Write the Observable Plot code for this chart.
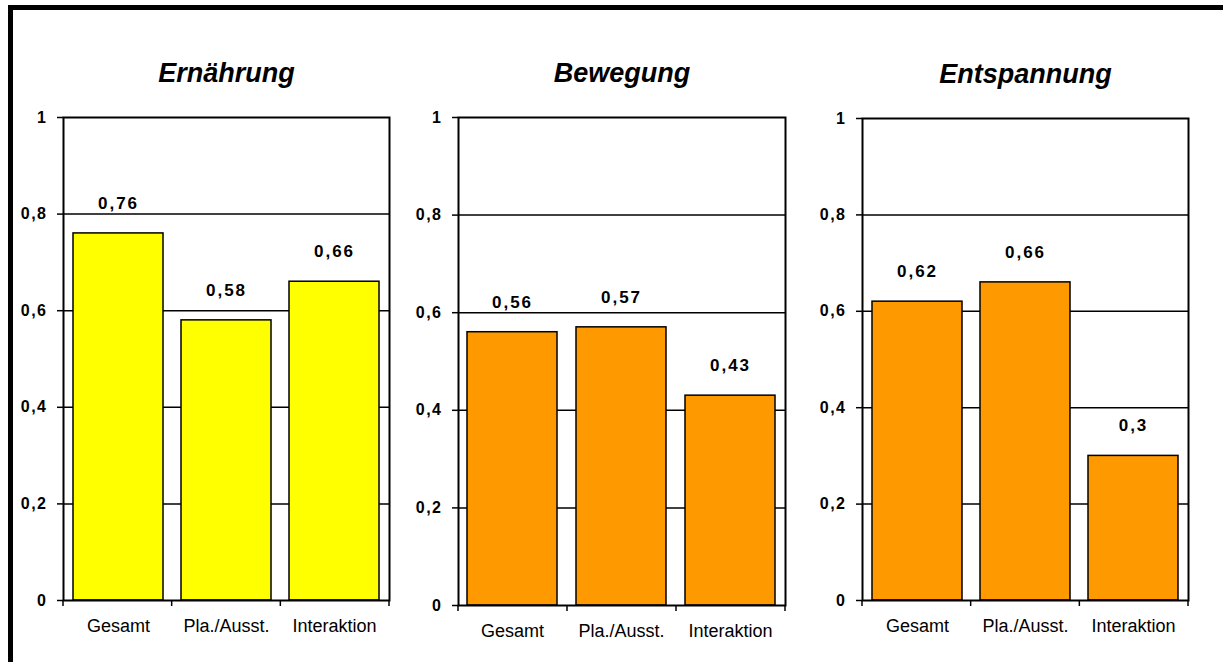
<!DOCTYPE html>
<html><head><meta charset="utf-8">
<script src="https://cdn.jsdelivr.net/npm/d3@7"></script>
<script src="https://cdn.jsdelivr.net/npm/@observablehq/plot@0.6"></script>
<style>
html,body{margin:0;padding:0;background:#fff;overflow:hidden;}
#chart{position:relative;width:1223px;height:662px;font-family:"Liberation Sans",Arial,sans-serif;}
#chart svg{position:absolute;left:0;top:0;background:transparent;}
#frame{position:absolute;left:8px;top:5px;width:1300px;height:700px;border-top:5px solid #000;border-left:5px solid #000;pointer-events:none;z-index:5;}
g[aria-label="y-axis tick label"] text{letter-spacing:1.5px;}
</style></head>
<body><div id="chart"><div id="frame"></div></div>
<script>
// ---- data ----
const categories = ["Gesamt", "Pla./Ausst.", "Interaktion"];
const panelTitles = ["Ernährung", "Bewegung", "Entspannung"];
const valuesErnaehrung = [0.76, 0.58, 0.66];
const valuesBewegung = [0.56, 0.57, 0.43];
const valuesEntspannung = [0.62, 0.66, 0.3];
const yTicks = [0, 0.2, 0.4, 0.6, 0.8, 1];

// ---- layout / style ----
const panelSeries = [valuesErnaehrung, valuesBewegung, valuesEntspannung];
const panelFill = ["#FFFF00", "#FF9900", "#FF9900"];
const panelBox = [
  {l: 63, r: 389, t: 117, b: 600},
  {l: 458, r: 785, t: 117, b: 605},
  {l: 862, r: 1188, t: 118, b: 600}
];
const W = 1223, H = 662;
const FONT = "Liberation Sans, Arial, sans-serif";
const fmt = v => String(v).replace(".", ",");

const chart = document.getElementById("chart");

panelTitles.forEach((title, p) => {
  const box = panelBox[p];
  const data = categories.map((c, i) => ({category: c, value: panelSeries[p][i]}));
  const n = categories.length;
  const boundaryTicks = (index, scales, values, dims) => {
    const g = d3.create("svg:g").attr("aria-label", "x boundary ticks");
    const x0 = dims.marginLeft, x1 = dims.width - dims.marginRight;
    const y0 = scales.y(0);
    for (let i = 0; i <= n; i++) {
      const x = x0 + (x1 - x0) * i / n;
      g.append("line").attr("x1", x).attr("x2", x).attr("y1", y0).attr("y2", y0 + 6)
        .attr("stroke", "black").attr("stroke-width", 1.5);
    }
    return g.node();
  };
  const svg = Plot.plot({
    width: W,
    height: H,
    marginLeft: box.l,
    marginRight: W - box.r,
    marginTop: box.t,
    marginBottom: H - box.b,
    style: {fontFamily: FONT, background: "transparent", color: "black", overflow: "visible"},
    x: {domain: categories, paddingInner: 0.17, paddingOuter: 0.085},
    y: {domain: [0, 1]},
    marks: [
      Plot.ruleY(yTicks.slice(1, -1), {stroke: "black", strokeWidth: 1.5}),
      Plot.barY(data, {x: "category", y: "value", fill: panelFill[p], stroke: "black", strokeWidth: 1.5}),
      Plot.frame({stroke: "black", strokeWidth: 2}),
      Plot.axisY({ticks: yTicks, tickFormat: fmt, tickSize: 6, tickPadding: 10, fontSize: 16, fontWeight: "bold", strokeWidth: 1.5, label: null}),
      Plot.axisX({tickSize: 0, tickPadding: 19, fontSize: 18, label: null}),
      boundaryTicks,
      Plot.text(data, {x: "category", y: "value", text: d => fmt(d.value), dy: -30, fontSize: 17, fontWeight: "bold", fill: "black"}),
      Plot.text([title], {frameAnchor: "top", lineAnchor: "middle", dy: -44, fontSize: 27, fontWeight: "bold", fontStyle: "italic", fill: "black"})
    ]
  });
  const textGroups = svg.querySelectorAll('g[aria-label="text"]');
  if (textGroups.length) textGroups[0].style.letterSpacing = "2px";
  chart.appendChild(svg);
});
</script>
</body></html>
